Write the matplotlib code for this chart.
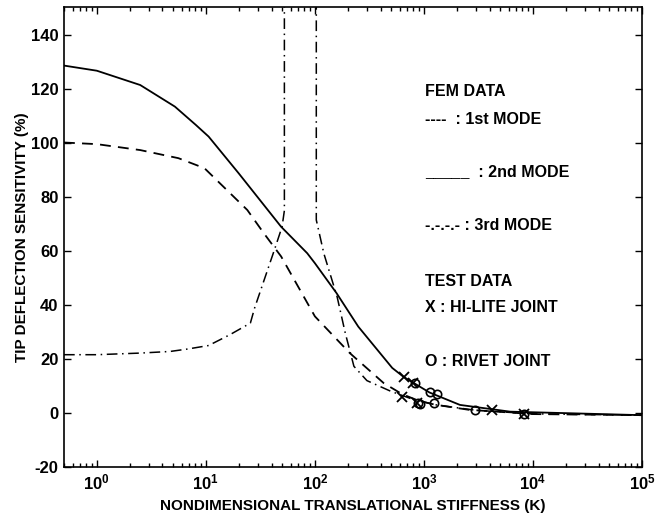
import numpy as np
import matplotlib.pyplot as plt
from matplotlib.ticker import LogLocator, FixedLocator

plt.rcParams["font.family"] = ["Liberation Sans", "DejaVu Sans"]
plt.rcParams["font.weight"] = "bold"
plt.rcParams["axes.labelweight"] = "bold"
plt.rcParams["mathtext.default"] = "bf"
plt.rcParams["axes.unicode_minus"] = False

# FEM curves: tip deflection sensitivity (%) vs nondimensional stiffness K
k_mode1 = [0.5, 1, 2.5, 5.6, 9.7, 24, 34, 49, 100, 209, 427, 630, 900, 1260, 2570, 1e4, 1e5]
s_mode1 = [100.2, 99.6, 97.4, 94.4, 90.7, 75.2, 66.6, 58, 35.8, 22.2, 11.1, 7.0, 4.5, 3.1, 1.2, -0.4, -0.8]

k_mode2 = [0.5, 1, 2.5, 5.2, 8.1, 10.6, 20, 49, 85, 100, 158, 250, 512, 650, 1125, 2140, 6170, 1e5]
s_mode2 = [128.7, 126.8, 121.5, 113.5, 106.7, 102.4, 88.8, 69, 59.2, 55.5, 44.4, 32, 16.7, 13.4, 7.6, 3.0, 0.5, -0.8]

# third mode diverges between K~52 and K~103 (runs off the top of the scale)
k_mode3 = [0.5, 1, 2.5, 4.7, 6.8, 10.6, 16.6, 25.6, 28, 43, 50, 52.5, 52.5,
           103, 103, 121, 160, 190, 228, 300, 500, 800, 1300, 3000, 1e4, 1e5]
s_mode3 = [21.6, 21.6, 22.2, 22.8, 23.7, 25, 29, 33.3, 38.9, 61, 69, 75, 170,
           170, 71.5, 59, 43, 29.6, 17.3, 12, 8, 5, 3, 1, -0.3, -0.8]

# test data
k_hilite = [650, 630, 800, 4200, 870, 8200]
s_hilite = [13.4, 6.0, 11.2, 1.1, 3.8, -0.5]
k_rivet = [1125, 1320, 1230, 2950, 930, 830, 8200, 880]
s_rivet = [7.6, 7.0, 3.8, 1.1, 3.5, 11.2, -0.5, 3.8]

legend_lines = [
    (91.7, "FEM DATA"),
    (120, "----  : 1st MODE"),
    (171.7, "_____  : 2nd MODE"),
    (225, "-.-.-.- : 3rd MODE"),
    (281.7, "TEST DATA"),
    (308, "X : HI-LITE JOINT"),
    (361.7, "O : RIVET JOINT"),
]

W, H = 668, 515
fig = plt.figure(figsize=(W / 100, H / 100), dpi=100)
ax = fig.add_axes([64 / W, 1 - 467 / H, (642 - 64) / W, (467 - 7) / H])

ax.plot(k_mode1, s_mode1, color="black", lw=1.3, linestyle=(0, (6, 4)))
ax.plot(k_mode2, s_mode2, color="black", lw=1.3)
ax.plot(k_mode3, s_mode3, color="black", lw=1.1, linestyle=(0, (7, 3, 1, 3)))
ax.plot(k_hilite, s_hilite, linestyle="none", marker="x", ms=7, mew=1.3, color="black")
ax.plot(k_rivet, s_rivet, linestyle="none", marker="o", ms=6, mew=1.2,
        mfc="none", mec="black")

ax.set_xscale("log")
ax.set_xlim(0.5, 1e5)
ax.set_ylim(-20, 150.4)
ax.yaxis.set_major_locator(FixedLocator(np.arange(-20, 141, 20)))
ax.xaxis.set_major_locator(LogLocator(base=10, numticks=10))
ax.xaxis.set_minor_locator(LogLocator(base=10, subs=np.arange(2, 10), numticks=20))
ax.tick_params(which="both", direction="in", top=True, right=True, width=1.0)
ax.tick_params(which="major", length=5, labelsize=12, pad=4)
ax.tick_params(which="minor", length=3)
for sp in ax.spines.values():
    sp.set_linewidth(1.2)

ax.set_xlabel("NONDIMENSIONAL TRANSLATIONAL STIFFNESS (K)", fontsize=11, labelpad=5)
ax.set_ylabel("TIP DEFLECTION SENSITIVITY (%)", fontsize=11, labelpad=1)

for ypix, txt in legend_lines:
    fig.text(425 / W, 1 - ypix / H, txt, fontsize=11.5, va="center", ha="left")

fig.savefig("out.png", dpi=100)
